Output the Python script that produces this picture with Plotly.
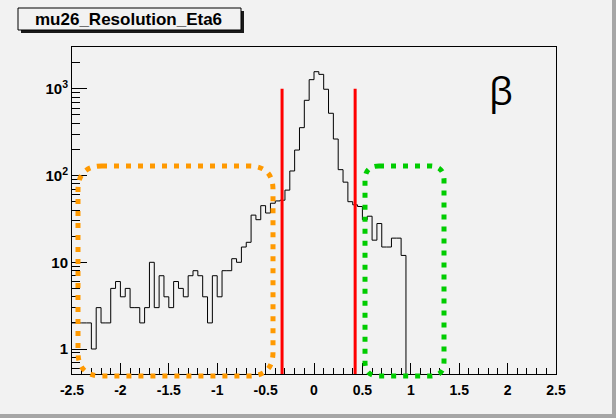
import numpy as np
import plotly.graph_objects as go

# ---- data ----
x_min, x_max, n_bins = -2.5, 2.5, 100
counts = [2, 2, 2, 2, 1, 3, 2, 2, 5, 6,
          4, 5, 3, 3, 2, 3, 10, 3, 7, 4,
          3, 6, 5, 4, 7, 8, 7, 4, 2, 7,
          4, 8, 8, 11, 10, 15, 17, 35, 31, 45,
          37, 48, 51, 52, 68, 113, 197, 357, 738, 1277,
          1578, 1470, 990, 523, 264, 117, 84, 50, 46, 44,
          31, 34, 18, 28, 15, 15, 19, 19, 12] + [0] * 31
cut_lines = [-0.33, 0.425]
cut_y = [0.5, 1000]
x_tickvals = [-2.5, -2, -1.5, -1, -0.5, 0, 0.5, 1, 1.5, 2, 2.5]
x_ticktext = ["-2.5", "-2", "-1.5", "-1", "-0.5", "0", "0.5", "1", "1.5", "2", "2.5"]
y_tickvals = [1, 10, 100, 1000]
y_ticktext = ["1", "10", "10<sup>2</sup>", "10<sup>3</sup>"]
y_minor = [0.6, 0.7, 0.8, 0.9] + [m * 10 ** d for d in range(0, 4) for m in range(2, 10)]
y_minor = [v for v in y_minor if v <= 3000]
title_text = "mu26_Resolution_Eta6"
label_text = "β"

# ---- geometry ----
W, H = 616, 418
L, R, T, B = 72, 556, 47, 374
PW, PH = R - L, B - T


def px(xp):
    return (xp - L) / PW


def py(yp):
    return (B - yp) / PH


edges = np.linspace(x_min, x_max, n_bins + 1)
vals = np.array(counts, dtype=float)
vals_plot = np.where(vals > 0, vals, 1e-3)
xs = list(edges)
ys = list(vals_plot) + [vals_plot[-1]]

fig = go.Figure()
fig.add_trace(go.Scatter(x=xs, y=ys, mode="lines", line=dict(color="black", width=1, shape="hv"),
                         hoverinfo="skip", showlegend=False))
for xc in cut_lines:
    fig.add_trace(go.Scatter(x=[xc, xc], y=cut_y, mode="lines", line=dict(color="#FF0000", width=3),
                             hoverinfo="skip", showlegend=False))


def rounded(x0p, y0p, x1p, y1p, r):
    x0, x1 = px(x0p), px(x1p)
    y0, y1 = py(y1p), py(y0p)  # y0 bottom, y1 top in paper
    rx, ry = r / PW, r / PH
    return (f"M {x0+rx},{y1} L {x1-rx},{y1} Q {x1},{y1} {x1},{y1-ry} "
            f"L {x1},{y0+ry} Q {x1},{y0} {x1-rx},{y0} L {x0+rx},{y0} "
            f"Q {x0},{y0} {x0},{y0+ry} L {x0},{y1-ry} Q {x0},{y1} {x0+rx},{y1} Z")


shapes = []
shapes.append(dict(type="path", xref="paper", yref="paper", path=rounded(78, 166, 273, 376, 24),
                   line=dict(color="#FF9900", width=5, dash="5px,7px"), layer="above"))
shapes.append(dict(type="path", xref="paper", yref="paper", path=rounded(365, 166, 444, 376, 14),
                   line=dict(color="#00CC00", width=5, dash="5px,7px"), layer="above"))
# canvas bevel
shapes.append(dict(type="rect", xref="paper", yref="paper", x0=px(0), x1=px(W), y0=py(414), y1=py(H),
                   fillcolor="#A6A6A6", line=dict(width=0), layer="below"))
shapes.append(dict(type="rect", xref="paper", yref="paper", x0=px(612), x1=px(W), y0=py(H), y1=py(0),
                   fillcolor="#A6A6A6", line=dict(width=0), layer="below"))
# title box with shadow
shapes.append(dict(type="rect", xref="paper", yref="paper", x0=px(21), x1=px(244), y0=py(33), y1=py(11),
                   fillcolor="#1a1a1a", line=dict(width=0), layer="above"))
shapes.append(dict(type="rect", xref="paper", yref="paper", x0=px(18), x1=px(241), y0=py(30), y1=py(8),
                   fillcolor="#F2F2F2", line=dict(color="black", width=1), layer="above"))

annotations = [
    dict(xref="paper", yref="paper", x=px(128.5), y=py(19.5), text=f"<b>{title_text}</b>", showarrow=False,
         font=dict(family="Liberation Sans", size=17, color="black"), xanchor="center", yanchor="middle"),
    dict(xref="paper", yref="paper", x=px(501), y=py(90), text=label_text, showarrow=False,
         font=dict(family="Open Sans", size=38, color="black"), xanchor="center", yanchor="middle"),
]

fig.update_layout(
    width=W, height=H,
    margin=dict(l=L, r=W - R, t=T, b=H - B, pad=0),
    paper_bgcolor="#F2F2F2", plot_bgcolor="#F2F2F2",
    shapes=shapes, annotations=annotations,
    showlegend=False,
    xaxis=dict(range=[x_min, x_max], tickvals=x_tickvals, ticktext=x_ticktext,
               ticks="inside", ticklen=11, tickwidth=1, tickcolor="black",
               minor=dict(dtick=0.1, tick0=0, ticks="inside", ticklen=6, tickcolor="black", tickwidth=1),
               showline=True, linecolor="black", linewidth=1, mirror=True,
               showgrid=False, zeroline=False, ticklabelstandoff=3,
               tickfont=dict(family="Liberation Sans", size=14, color="black", weight="bold")),
    yaxis=dict(type="log", range=[np.log10(0.515), np.log10(3040)],
               tickvals=y_tickvals, ticktext=y_ticktext,
               ticks="inside", ticklen=15, tickwidth=1, tickcolor="black",
               minor=dict(tickvals=y_minor, ticks="inside", ticklen=8, tickcolor="black", tickwidth=1),
               showline=True, linecolor="black", linewidth=1, mirror=True,
               showgrid=False, zeroline=False,
               tickfont=dict(family="Liberation Sans", size=15, color="black", weight="bold")),
)

fig.write_html("out.html")
